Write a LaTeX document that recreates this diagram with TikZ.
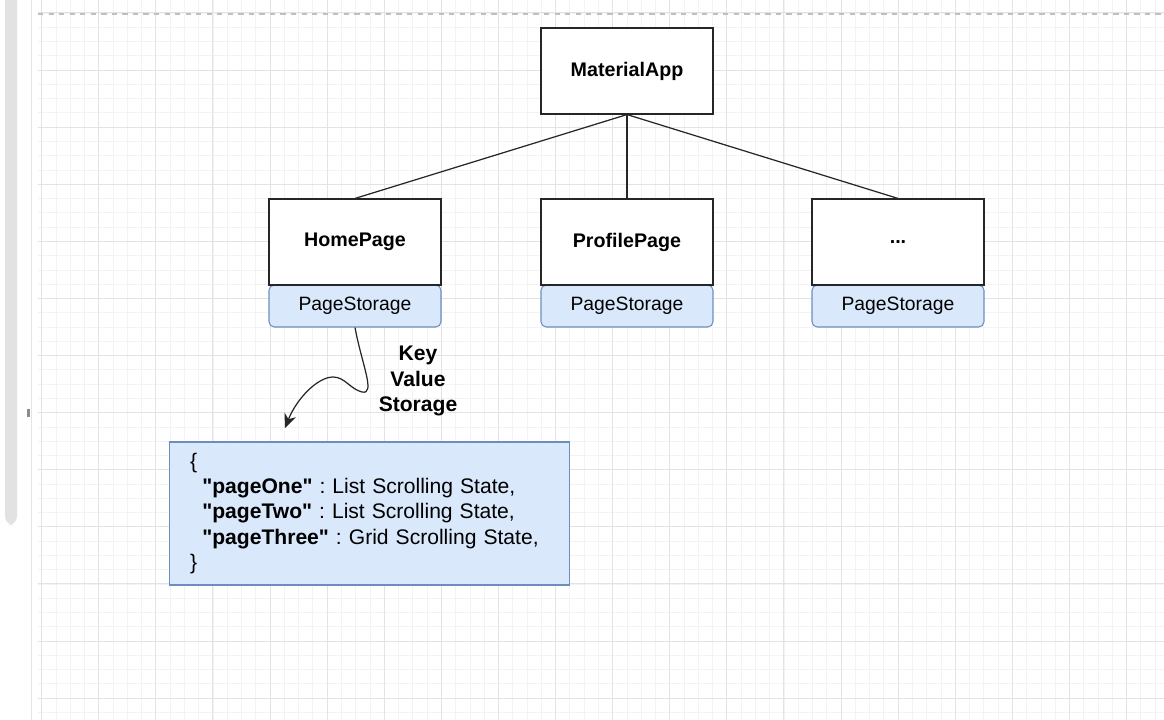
\documentclass[tikz,border=0pt]{standalone}
\usepackage{fontspec}
\setmainfont{Liberation Sans}
\usetikzlibrary{arrows.meta}
\definecolor{storeFill}{HTML}{DAE8FC}
\definecolor{storeLine}{HTML}{6C8EBF}
\definecolor{gridMinor}{HTML}{F3F3F3}
\definecolor{gridMajor}{HTML}{E3E3E3}
\definecolor{barGray}{HTML}{E2E2E2}
\frenchspacing
\begin{document}
\begin{tikzpicture}[x=0.02cm, y=-0.02cm,
	pagebox/.style={draw=black!85, rectangle, fill=white, line width=0.65pt, minimum width=3.44cm,
		minimum height=1.72cm, text centered, font=\fontsize{11.2}{13}\selectfont\bfseries},
	storebox/.style={draw=storeLine, fill=storeFill, rectangle, rounded corners=3pt,
		line width=0.6pt, minimum width=3.44cm, minimum height=0.84cm, text centered,
		font=\fontsize{11}{13}\selectfont},
	link/.style={draw=black!85, line width=0.7pt}]
			
			%Canvas
			\useasboundingbox (0,0) rectangle (1164,720);
			\fill[white] (0,0) rectangle (1164,720);
			\foreach \i in {0,...,78}
				\draw[gridMinor, line width=0.4pt] ({41.6+14.275*\i},0) -- ++(0,720);
			\foreach \i in {0,...,49}
				\draw[gridMinor, line width=0.4pt] (38,{12.9+14.275*\i}) -- (1164,{12.9+14.275*\i});
			\foreach \i in {0,...,19}
				\draw[gridMajor, line width=0.5pt] ({41.6+57.1*\i},0) -- ++(0,720);
			\foreach \i in {0,...,12}
				\draw[gridMajor, line width=0.5pt] (38,{12.9+57.1*\i}) -- (1164,{12.9+57.1*\i});
			\draw[black!25, dashed, line width=0.8pt] (38,14) -- (1164,14);
			\draw[black!10, line width=0.5pt] (31,0) -- (31,720);
			\fill[barGray, rounded corners=5pt] (5,-10) rectangle (17,525);
			\fill[black!45] (27,409) rectangle (30,417);
			
			%Storage blocks
			\node (homeStore) at (355,306) [storebox]{PageStorage};
			\node (profileStore) at (627,306) [storebox]{PageStorage};
			\node (moreStore) at (898,306) [storebox]{PageStorage};
			
			%Pages
			\node (app) at (627,71) [pagebox]{MaterialApp};
			\node (home) at (355,242) [pagebox]{HomePage};
			\node (profile) at (627,242) [pagebox]{ProfilePage};
			\node (more) at (898,242) [pagebox]{...};
			
			%Key value map
			\node (stateMap) at (369.5,513.5) [draw=storeLine, fill=storeFill, rectangle,
			line width=0.6pt, minimum width=8.02cm, minimum height=2.86cm, inner xsep=0.42cm,
			text width=7.18cm, align=left, font=\fontsize{12}{14.3}\selectfont]{%
				\{\\
				\hspace*{7pt}\textbf{\textquotedbl pageOne\textquotedbl} : List Scrolling State,\\
				\hspace*{7pt}\textbf{\textquotedbl pageTwo\textquotedbl} : List Scrolling State,\\
				\hspace*{7pt}\textbf{\textquotedbl pageThree\textquotedbl} : Grid Scrolling State,\\
				\}};
			\node (kvLabel) at (418,381) [align=center, font=\fontsize{12}{14.3}\selectfont\bfseries]
			{Key\\Value\\Storage};
			\coordinate (kvEnd) at (285,428);
			
			%Linx
			\draw[link] (app.south) -- (home.north);
			\draw[link] (app.south) -- (profile.north);
			\draw[link] (app.south) -- (more.north);
			\draw[link, -{Stealth[length=8pt, width=7pt]}] (homeStore.south)
				.. controls (362,365) and (376,395) .. (362,392)
				.. controls (350,389) and (345,377) .. (333,377)
				.. controls (318,377) and (297,398) .. (kvEnd);
			
			\end{tikzpicture}
\end{document}
